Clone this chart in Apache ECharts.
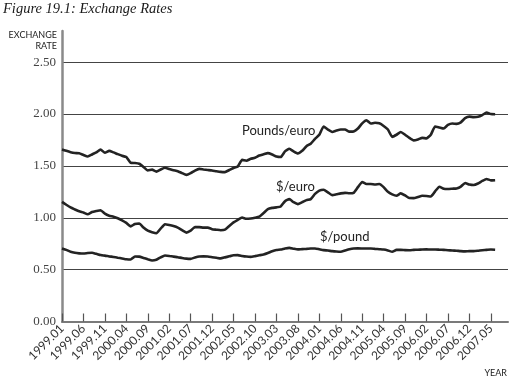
<!DOCTYPE html>
<html>
<head>
<meta charset="utf-8">
<script src="https://cdn.jsdelivr.net/npm/echarts@6/dist/echarts.min.js"></script>
<style>html,body{margin:0;padding:0;background:#fff}#c{width:523px;height:388px}</style>
</head>
<body>
<div id="c"></div>
<script>
// Monthly categories 1999.01 .. 2007.09 (axis extends a little past the data)
const startYear = 1999, monthCount = 105;
const months = [];
for (let k = 0; k < monthCount; k++) {
  const y = startYear + Math.floor(k / 12), m = (k % 12) + 1;
  months.push(y + '.' + (m < 10 ? '0' + m : '' + m));
}

const poundsPerEuro = [
  1.658,1.645,1.632,1.624,1.622,1.605,1.59,1.61,1.63,1.658,1.626,1.645,
  1.63,1.613,1.597,1.585,1.53,1.528,1.52,1.49,1.455,1.464,1.445,1.465,
  1.482,1.47,1.458,1.449,1.43,1.413,1.43,1.455,1.471,1.465,1.46,1.455,
  1.448,1.442,1.44,1.46,1.48,1.494,1.558,1.55,1.568,1.578,1.60,1.612,
  1.623,1.61,1.59,1.585,1.64,1.665,1.64,1.62,1.645,1.69,1.714,1.76,
  1.80,1.88,1.85,1.827,1.84,1.85,1.85,1.83,1.832,1.86,1.91,1.94,
  1.908,1.915,1.91,1.885,1.85,1.78,1.80,1.827,1.80,1.77,1.746,1.755,
  1.77,1.765,1.80,1.88,1.87,1.86,1.895,1.908,1.905,1.92,1.96,1.975,
  1.97,1.973,1.99,2.015,2.0,1.998
];

const dollarsPerEuro = [
  1.153,1.125,1.099,1.08,1.062,1.05,1.034,1.055,1.065,1.073,1.04,1.02,
  1.01,0.995,0.975,0.95,0.917,0.94,0.945,0.905,0.875,0.86,0.85,0.895,
  0.937,0.93,0.92,0.905,0.88,0.857,0.875,0.91,0.91,0.905,0.905,0.89,
  0.885,0.88,0.885,0.92,0.955,0.98,1.002,0.99,0.993,1.0,1.01,1.045,
  1.083,1.095,1.10,1.109,1.16,1.18,1.15,1.131,1.15,1.17,1.18,1.23,
  1.262,1.27,1.245,1.218,1.226,1.235,1.24,1.236,1.24,1.295,1.345,1.325,
  1.325,1.32,1.325,1.295,1.25,1.225,1.212,1.235,1.215,1.19,1.189,1.20,
  1.212,1.21,1.205,1.255,1.299,1.28,1.277,1.28,1.283,1.30,1.335,1.32,
  1.315,1.33,1.355,1.374,1.36,1.362
];

const dollarsPerPound = [
  0.704,0.69,0.672,0.662,0.657,0.655,0.66,0.663,0.652,0.64,0.635,0.628,
  0.622,0.615,0.608,0.6,0.597,0.626,0.625,0.613,0.6,0.588,0.595,0.618,
  0.636,0.632,0.625,0.62,0.612,0.606,0.604,0.617,0.627,0.628,0.626,0.62,
  0.614,0.608,0.618,0.628,0.638,0.64,0.632,0.626,0.623,0.63,0.638,0.646,
  0.66,0.678,0.69,0.694,0.704,0.71,0.702,0.695,0.698,0.7,0.703,0.704,
  0.696,0.688,0.684,0.678,0.674,0.672,0.684,0.696,0.704,0.705,0.704,0.703,
  0.704,0.7,0.697,0.694,0.685,0.672,0.69,0.69,0.688,0.687,0.69,0.692,
  0.694,0.695,0.694,0.694,0.692,0.69,0.687,0.685,0.682,0.678,0.676,0.678,
  0.678,0.682,0.687,0.69,0.694,0.692
];

const yTicks = [0, 0.5, 1.0, 1.5, 2.0, 2.5];
const seriesNames = ['Pounds/euro', '$/euro', '$/pound'];

const chart = echarts.init(document.getElementById('c'), null, {renderer: 'canvas'});
const lineStyle = {color: '#232323', width: 2.6};
const mk = (name, data) => ({
  name, type: 'line', data, showSymbol: false, symbol: 'none',
  lineStyle, smooth: 0.15, animation: false
});

chart.setOption({
  animation: false,
  backgroundColor: '#fff',
  grid: {left: 62, right: 15, top: 31, bottom: 66.5, containLabel: false},
  xAxis: {
    type: 'category', data: months, boundaryGap: false,
    axisLine: {lineStyle: {color: '#7a7a7a', width: 2}},
    axisTick: {show: true, inside: true, length: 8, interval: 4, lineStyle: {color: '#555', width: 1.2}},
    axisLabel: {interval: 4, rotate: 45, margin: 5, fontFamily: 'Lato', fontSize: 12, color: '#333'},
    splitLine: {show: false}
  },
  yAxis: {
    type: 'value', min: 0, max: 2.8, interval: 0.5,
    axisLine: {show: true, lineStyle: {color: '#8a8a8a', width: 2.5}},
    axisTick: {show: false},
    axisLabel: {
      showMaxLabel: false, margin: 6, fontFamily: 'Liberation Serif', fontSize: 13, color: '#444',
      formatter: v => (yTicks.some(t => Math.abs(t - v) < 1e-9) ? v.toFixed(2) : '')
    },
    splitLine: {show: true, showMaxLine: false, showMinLine: false, lineStyle: {color: '#444', width: 1}}
  },
  series: [
    mk(seriesNames[0], poundsPerEuro),
    mk(seriesNames[1], dollarsPerEuro),
    mk(seriesNames[2], dollarsPerPound)
  ],
  graphic: [
    {type: 'text', left: 3, top: 2, style: {text: 'Figure 19.1: Exchange Rates', font: 'italic 14.5px "Liberation Serif"', fill: '#1a1a1a'}},
    {type: 'text', x: 57, y: 35, style: {text: 'EXCHANGE', font: '9px Lato', fill: '#222', align: 'right', verticalAlign: 'middle'}},
    {type: 'text', x: 57, y: 46, style: {text: 'RATE', font: '9px Lato', fill: '#222', align: 'right', verticalAlign: 'middle'}},
    {type: 'text', x: 507, y: 373, style: {text: 'YEAR', font: '9px Lato', fill: '#222', align: 'right', verticalAlign: 'middle'}},
    {type: 'text', x: 242, y: 131, style: {text: seriesNames[0], font: '13px Lato', fill: '#222', verticalAlign: 'middle'}},
    {type: 'text', x: 276, y: 187, style: {text: seriesNames[1], font: '13px Lato', fill: '#222', verticalAlign: 'middle'}},
    {type: 'text', x: 320, y: 237, style: {text: seriesNames[2], font: '13px Lato', fill: '#222', verticalAlign: 'middle'}}
  ]
});
</script>
</body>
</html>
